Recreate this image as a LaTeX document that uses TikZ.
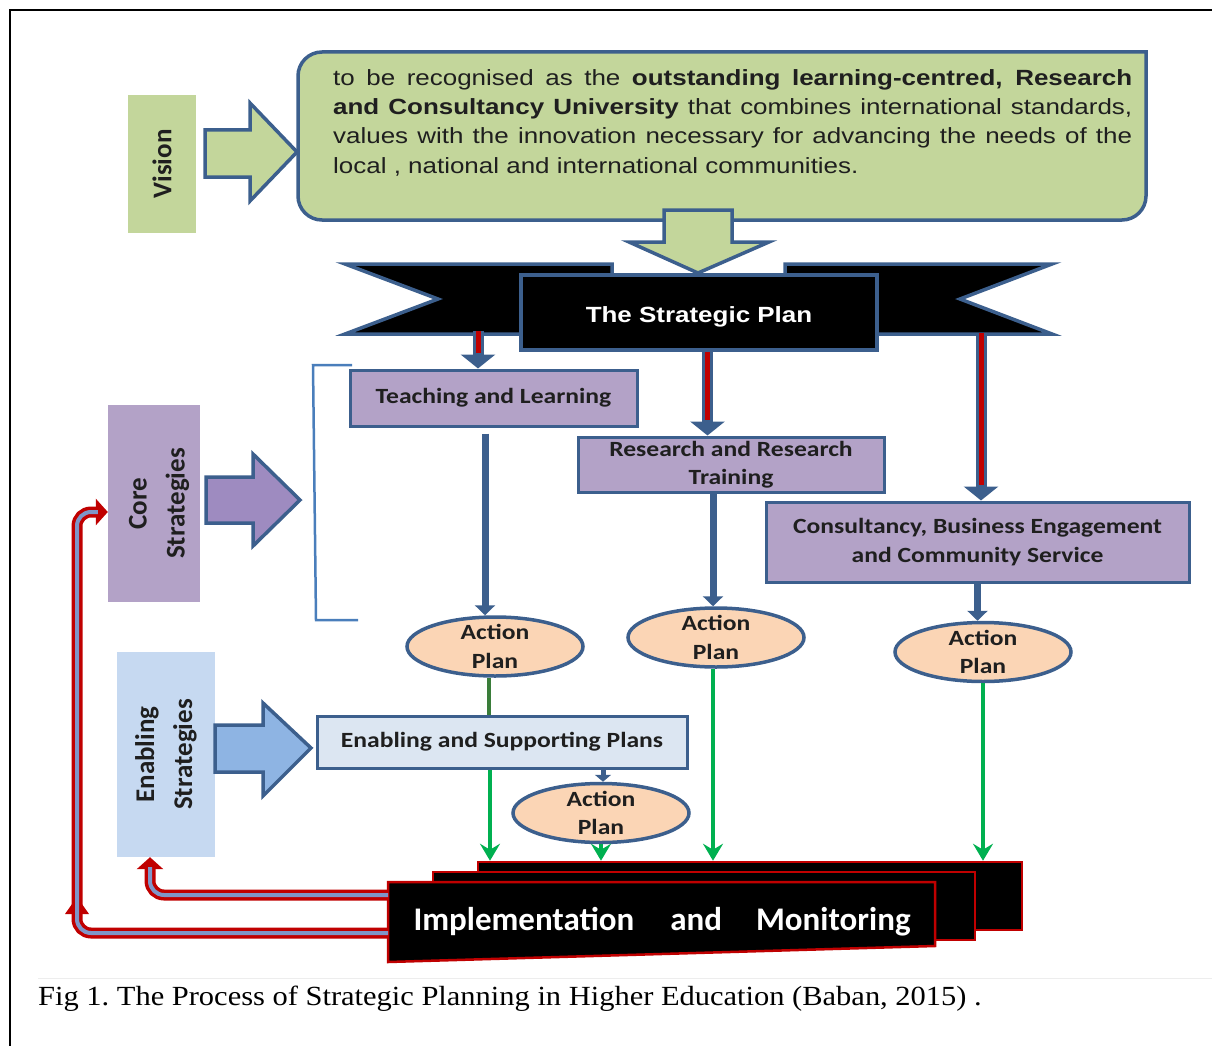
\documentclass[tikz,border=0pt]{standalone}
\usepackage{fontspec}
\setmainfont{Liberation Serif}
\newfontfamily\capfont[FakeStretch=1.1]{Liberation Serif}
\newfontfamily\calfont[FakeStretch=1.18]{Carlito}
\newfontfamily\calplain{Carlito}
\newfontfamily\arialfont[FakeStretch=1.18]{Liberation Sans}
\usetikzlibrary{positioning,arrows.meta,calc,shapes.geometric}

\definecolor{visgreen}{HTML}{C3D69B}
\definecolor{lineblue}{HTML}{3C5F8D}
\definecolor{corepurple}{HTML}{B3A2C7}
\definecolor{arrowpurple}{HTML}{9E8BC0}
\definecolor{enabblue}{HTML}{C6D9F1}
\definecolor{enabarrow}{HTML}{8EB4E3}
\definecolor{planlight}{HTML}{DCE6F2}
\definecolor{peach}{HTML}{FBD5B5}
\definecolor{pipered}{HTML}{C00000}
\definecolor{pipeblue}{HTML}{7F96C8}
\definecolor{flowgreen}{HTML}{00B050}
\definecolor{darkgreen}{HTML}{3A7D3A}
\definecolor{bracketblue}{HTML}{4A7EBB}
\definecolor{textdark}{HTML}{1F1F1F}

\begin{document}
\begin{tikzpicture}[x=1pt,y=-1pt,
    planbox/.style={draw=lineblue, line width=3pt, fill=corepurple, text=textdark, align=center,
      inner sep=0pt, font=\calfont\bfseries\fontsize{21.7}{28.5}\selectfont},
    sidebox/.style={rotate=90, inner sep=0pt, align=center, text=textdark,
      font=\calplain\bfseries\fontsize{27}{38}\selectfont},
    aptext/.style={align=center, text=textdark, inner sep=0pt,
      font=\calfont\bfseries\fontsize{21.7}{28.5}\selectfont},
    actionplan/.style={ellipse, draw=lineblue, line width=3.5pt, fill=peach, inner sep=0pt,
      minimum width=176pt, minimum height=59pt, label={[aptext]center:Action\\Plan}},
    blockarrow/.style={draw=lineblue, line width=3.5pt, line join=miter},
    bannertail/.style={draw=lineblue, line width=3.5pt, fill=black, line join=miter},
    bannerbox/.style={draw=lineblue, line width=3.5pt, fill=black, inner sep=0pt,
      minimum width=356pt, minimum height=75pt},
    bannertext/.style={text=white, inner sep=0pt, font=\arialfont\bfseries\fontsize{22}{26}\selectfont},
    bluearrow/.style={draw=lineblue, line width=7pt, -{Triangle[length=10pt,width=20pt]}},
    redpipe/.style={draw=lineblue, line width=11pt, -{Triangle[length=14pt,width=34pt]},
      postaction={draw=pipered, line width=5pt, -, shorten >=16pt}},
    flow/.style={draw=flowgreen, line width=3.5pt, -{Stealth[length=17pt,width=20pt,inset=6pt]}},
    flowstub/.style={draw=darkgreen, line width=3.5pt},
    feedback/.style={draw=pipered, line width=11pt, rounded corners=14pt,
      -{Triangle[length=12pt,width=26pt]},
      postaction={draw=pipeblue, line width=4pt, -, shorten >=10pt}},
    implbox/.style={draw=pipered, line width=2.5pt, fill=black}]

\useasboundingbox (0,0) rectangle (1212,1046);
\draw[line width=2pt] (9.5,1046) -- (9.5,10) -- (1212,10);

% vision
\filldraw[fill=visgreen, draw=lineblue, line width=3.5pt]
  (700,52) -- (1146,52) -- (1146,70) [rounded corners=24pt] -- (1146,220) -- (298,220) -- (298,52) -- cycle;
\node[anchor=north west, text width=799pt, inner sep=0pt, align=justify, text=textdark,
  font=\arialfont\fontsize{22}{29.3}\selectfont] (mission) at (333,69)
  {\noindent to be recognised as the \textbf{outstanding learning-centred, Research\linebreak
   and Consultancy University} that combines international standards,\linebreak
   values with the innovation necessary for advancing the needs of the\linebreak
   local , national and international communities.};
\node[sidebox, fill=visgreen, minimum width=138pt, minimum height=68pt] (vision) at (162,164) {Vision};
\filldraw[blockarrow, fill=visgreen] (205,130) -- (250,130) -- (250,103) -- (297,152)
  -- (250,201) -- (250,177) -- (205,177) -- cycle;

% the strategic plan
\filldraw[bannertail] (345,264) -- (612,264) -- (612,334) -- (345,334) -- (438,299) -- cycle;
\filldraw[bannertail] (785,264) -- (1052,264) -- (960,299) -- (1052,334) -- (785,334) -- cycle;
\node[bannerbox] (plan) at (699,312.5) {};
\node[bannertext] (plantext) at ([yshift=-4pt]plan.center) {The Strategic Plan};
\filldraw[blockarrow, fill=visgreen] (664,210) -- (732,210) -- (732,242) -- (769,242)
  -- (698,273) -- (629,242) -- (664,242) -- cycle;
\coordinate (tailL) at (478,331);
\coordinate (tailR) at (981,333);

% core strategies
\node[planbox, minimum width=287pt, minimum height=56pt] (teach) at (493.5,398) {Teaching and Learning};
\node[planbox, minimum width=306pt, minimum height=55pt] (research) at (731,464.5) {Research and Research\\Training};
\node[planbox, minimum width=423pt, minimum height=80pt] (consult) at (977.5,542)
  {Consultancy, Business Engagement\\and Community Service};
\draw[redpipe] (tailL) -- (tailL |- teach.north);
\draw[redpipe] ([xshift=8.5pt]plan.south) -- ([xshift=8.5pt]plan.south |- research.north);
\draw[redpipe] (tailR) -- (tailR |- consult.north);
\draw[bracketblue, line width=2.5pt] (352,365) -- (313,365) -- (316,620) -- (358,620);
\node[sidebox, fill=corepurple, minimum width=197pt, minimum height=92pt] (core) at (154,503.5) {};
\node[sidebox] (coretext) at (159,503.5) {Core\\Strategies};
\filldraw[blockarrow, fill=arrowpurple] (206,477) -- (253,477) -- (253,454) -- (300,500)
  -- (253,546) -- (253,523) -- (206,523) -- cycle;

% action plans
\node[actionplan] (ap1) at (495,646.5) {};
\node[actionplan] (ap2) at (716,637.5) {};
\node[actionplan] (ap3) at (983,652) {};
\draw[bluearrow] ([xshift=-8.5pt,yshift=-6pt]teach.south) -- ([xshift=-8.5pt]teach.south |- ap1.north);
\draw[bluearrow] ([xshift=-18pt]research.south) -- ([xshift=-18pt]research.south |- ap2.north);
\draw[bluearrow] (consult.south) -- (consult.south |- ap3.north);

% enabling strategies
\node[sidebox, fill=enabblue, minimum width=205pt, minimum height=98pt] (enabling) at (166,754.5) {Enabling\\Strategies};
\filldraw[blockarrow, fill=enabarrow] (215,725) -- (263,725) -- (263,703) -- (311,748)
  -- (263,796) -- (263,772) -- (215,772) -- cycle;
\node[planbox, fill=planlight, minimum width=370pt, minimum height=52pt] (enabplans) at (502,742)
  {Enabling and Supporting Plans};
\node[actionplan] (ap4) at (601,813) {};
\draw[flowstub] ([xshift=-6pt]ap1.south) -- ([xshift=-6pt]ap1.south |- enabplans.north);
\draw[bluearrow, line width=5pt, -{Triangle[length=7pt,width=16pt]}]
  ([xshift=101pt]enabplans.south) -- ([xshift=101pt]enabplans.south |- ap4.north);

% implementation and monitoring
\node[implbox, minimum width=544pt, minimum height=68pt] (implback) at (750,896) {};
\node[implbox, minimum width=542pt, minimum height=68pt] (implmid) at (704,906) {};
\filldraw[implbox] (388,882) -- (935,882) -- (935,946) -- (388,962) -- cycle;
\node[text=white, inner sep=0pt, font=\calplain\bfseries\fontsize{33}{36}\selectfont] (impl) at (662,922)
  {Implementation\hspace{36pt}and\hspace{34pt}Monitoring};
\coordinate (implA) at (388,895);
\coordinate (implB) at (388,933);

\draw[flow] ([xshift=-12pt]enabplans.south) -- ([xshift=-12pt]enabplans.south |- implback.north);
\draw[flow] (ap4.south) -- (ap4.south |- implback.north);
\draw[flow] ([xshift=-3pt]ap2.south) -- ([xshift=-3pt]ap2.south |- implback.north);
\draw[flow] (ap3.south) -- (ap3.south |- implback.north);

% feedback
\fill[pipered] (65,914) -- (77,897) -- (89,914) -- cycle;
\draw[feedback] (implA) -- (150,895) -- (150,895 |- enabling.west);
\draw[feedback] (implB) -- (77,933) -- (77,512) -- (core.north |- 77,512);

% caption
\draw[black!7, line width=1pt] (38,978) -- (1212,978);
\node[anchor=west, inner sep=0pt, font=\capfont\fontsize{27.7}{30}\selectfont] (caption) at (38,999)
  {\frenchspacing Fig 1. The Process of Strategic Planning in Higher Education (Baban, 2015) .};
\end{tikzpicture}
\end{document}
